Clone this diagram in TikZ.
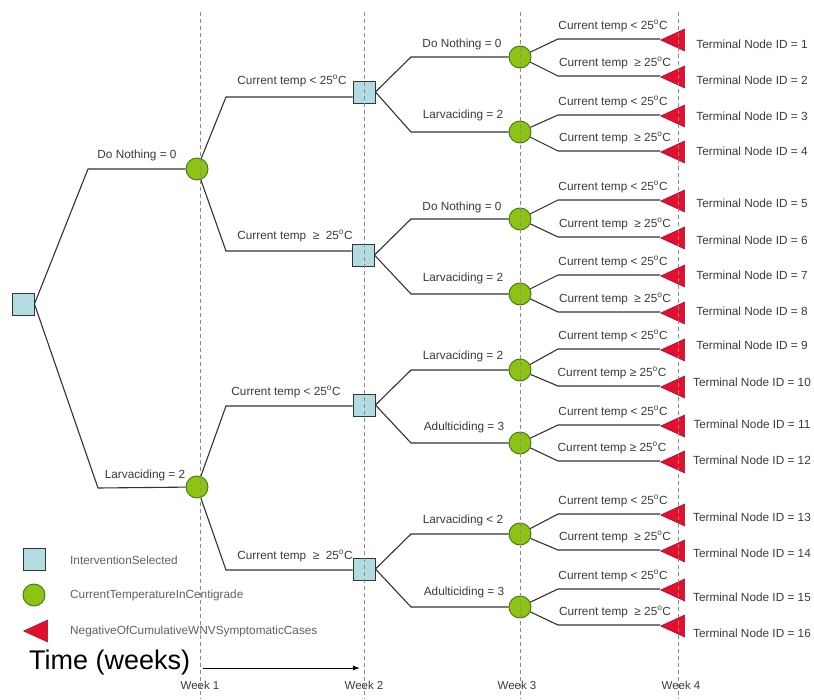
\documentclass[tikz,border=0pt]{standalone}
\usepackage{fontspec}
\setmainfont{Liberation Sans}
\usetikzlibrary{shapes.geometric,arrows.meta}

\definecolor{boxfill}{HTML}{B3DCE2}
\definecolor{boxedge}{HTML}{2E3838}
\definecolor{chancefill}{HTML}{8CC314}
\definecolor{chanceedge}{HTML}{3F7A0C}
\definecolor{termfill}{HTML}{E2102E}
\definecolor{termedge}{HTML}{A00C20}
\definecolor{linecol}{HTML}{333333}
\definecolor{textcol}{HTML}{3A3A3A}
\definecolor{gridcol}{HTML}{8C8C8C}

\newcommand{\degsym}{\textsuperscript{o}}
\newcommand{\tlow}{Current temp < 25\degsym C}
\newcommand{\thigh}{Current temp \ ≥ 25\degsym C}
\newcommand{\thighnarrow}{Current temp ≥ 25\degsym C}
\newcommand{\thighwide}{Current temp \ ≥ \ 25\degsym C}

\tikzset{
  decision/.style={draw=boxedge, fill=boxfill, line width=0.9pt, minimum size=22pt, inner sep=0pt},
  chance/.style={circle, draw=chanceedge, fill=chancefill, line width=0.9pt, minimum size=22pt, inner sep=0pt},
  terminal/.style={isosceles triangle, isosceles triangle stretches, rotate=180, anchor=apex,
    minimum width=22pt, minimum height=24pt, fill=termfill, draw=termedge, line width=0.5pt, inner sep=0pt},
  branch/.style={draw=linecol, line width=1.1pt},
  lbl/.style={font=\fontsize{11.8}{13}\selectfont, text=textcol, inner sep=0pt},
  idlbl/.style={font=\fontsize{11.8}{13}\selectfont, text=textcol, inner sep=0pt},
  legendlbl/.style={font=\fontsize{11.8}{13}\selectfont, text=textcol!80, inner sep=0pt, anchor=west},
  weeklbl/.style={font=\fontsize{11.5}{13}\selectfont, text=textcol, inner sep=0pt},
  gridline/.style={draw=gridcol, line width=0.8pt, dash pattern=on 4pt off 3pt},
}

\begin{document}
\begin{tikzpicture}[x=1pt, y=-1pt]
\useasboundingbox (0,0) rectangle (814,699);

% ---- decision and chance nodes ----
\node[decision] (root) at (23,304) {};
\node[chance] (c1) at (197,169) {};
\node[chance] (c2) at (197,487) {};

\node[decision] (s1) at (364,92) {};
\node[decision] (s2) at (363,255) {};
\node[decision] (s3) at (364,405) {};
\node[decision] (s4) at (364,569) {};

\foreach \k/\y in {1/57, 2/132, 3/219, 4/294, 5/370, 6/443, 7/534, 8/607}
  \node[chance] (w\k) at (520,\y) {};

% ---- root to week 1 ----
\coordinate (rb1) at (88,169);
\coordinate (rb2) at (98,488);
\draw[branch] (root.east) -- (rb1) -- (c1);
\draw[branch] (root.east) -- (rb2) -- (c2);
\node[lbl] (l1) at (137,155) {Do Nothing = 0};
\node[lbl] (l2) at (145,475) {Larvaciding = 2};

% ---- week 1 to week 2 ----
\coordinate (cb1) at (226,97);
\coordinate (cb2) at (226,251);
\coordinate (cb3) at (226,406);
\coordinate (cb4) at (226,570);
\draw[branch] (c1) -- (cb1) -- (cb1 -| s1.west);
\draw[branch] (c1) -- (cb2) -- (cb2 -| s2.west);
\draw[branch] (c2) -- (cb3) -- (cb3 -| s3.west);
\draw[branch] (c2) -- (cb4) -- (cb4 -| s4.west);
\node[lbl] (m1) at (292,81) {\tlow};
\node[lbl] (m2) at (295,236) {\thighwide};
\node[lbl] (m3) at (286,392) {\tlow};
\node[lbl] (m4) at (295,556) {\thighwide};

% ---- week 2 to week 3 ----
\foreach \s/\k/\y in {1/1/57, 1/2/132, 2/3/219, 2/4/294, 3/5/370, 3/6/443, 4/7/534, 4/8/607}{
  \coordinate (sb\k) at (411,\y);
  \draw[branch] (s\s.east) -- (sb\k) -- (w\k);
}
\node[lbl] (n1) at (462,44) {Do Nothing = 0};
\node[lbl] (n2) at (463,115) {Larvaciding = 2};
\node[lbl] (n3) at (462,207) {Do Nothing = 0};
\node[lbl] (n4) at (463,278) {Larvaciding = 2};
\node[lbl] (n5) at (463,356) {Larvaciding = 2};
\node[lbl] (n6) at (464,427) {Adulticiding = 3};
\node[lbl] (n7) at (463,520) {Larvaciding < 2};
\node[lbl] (n8) at (464,592) {Adulticiding = 3};

% ---- week 3 to week 4 (terminal outcomes) ----
\foreach \i/\k/\ty/\ly in {1/1/39/44, 2/1/76/80, 3/2/115/116, 4/2/151/151,
    5/3/200/203, 6/3/237/240, 7/4/275/275, 8/4/312/311,
    9/5/349/345, 10/5/386/382, 11/6/425/424, 12/6/461/460,
    13/7/514/517, 14/7/550/553, 15/8/589/597, 16/8/625/633}{
  \node[terminal] (t\i) at (660,\ty+1) {};
  \coordinate (tb\i) at (558,\ty);
  \draw[branch] (w\k) -- (tb\i) -- (tb\i -| t\i.apex);
  \node[idlbl] (id\i) at (752,\ly) {Terminal Node ID = \i};
  \pgfmathparse{int(mod(\i,2))}
  \ifnum\pgfmathresult=1
    \node[lbl] (tl\i) at (613,\ty-13) {\tlow};
  \else
    \ifnum\i=10 \node[lbl] (tl\i) at (612,\ty-13) {\thighnarrow};
    \else\ifnum\i=12 \node[lbl] (tl\i) at (612,\ty-13) {\thighnarrow};
    \else \node[lbl] (tl\i) at (615,\ty-13) {\thigh};
    \fi\fi
  \fi
}

% ---- legend ----
\node[decision] (legsq) at (34,559) {};
\node[chance] (legci) at (34,595) {};
\node[terminal] (legtr) at (23,631) {};
\node[legendlbl] (legsqt) at (70,560) {InterventionSelected};
\node[legendlbl] (legcit) at (70,595) {CurrentTemperatureInCentigrade};
\node[legendlbl] (legtrt) at (70,631) {NegativeOfCumulativeWNVSymptomaticCases};

% ---- time axis ----
\node[font=\fontsize{27}{30}\selectfont, anchor=west, inner sep=0pt] (time) at (29,663) {Time (weeks)};
\coordinate (ta) at (203,668);
\coordinate (tz) at (360,668);
\draw[line width=1pt, -{Latex[length=7pt,width=5pt]}] (ta) -- (tz);

\node[weeklbl] (wk1) at (200,685) {Week 1};
\node[weeklbl] (wk2) at (364,685) {Week 2};
\node[weeklbl] (wk3) at (517,685) {Week 3};
\node[weeklbl] (wk4) at (681,685) {Week 4};

% ---- week guide lines, drawn over everything ----
\foreach \x in {200,364,520,678}
  \draw[gridline] (\x,12) -- (\x,699);
\end{tikzpicture}
\end{document}
